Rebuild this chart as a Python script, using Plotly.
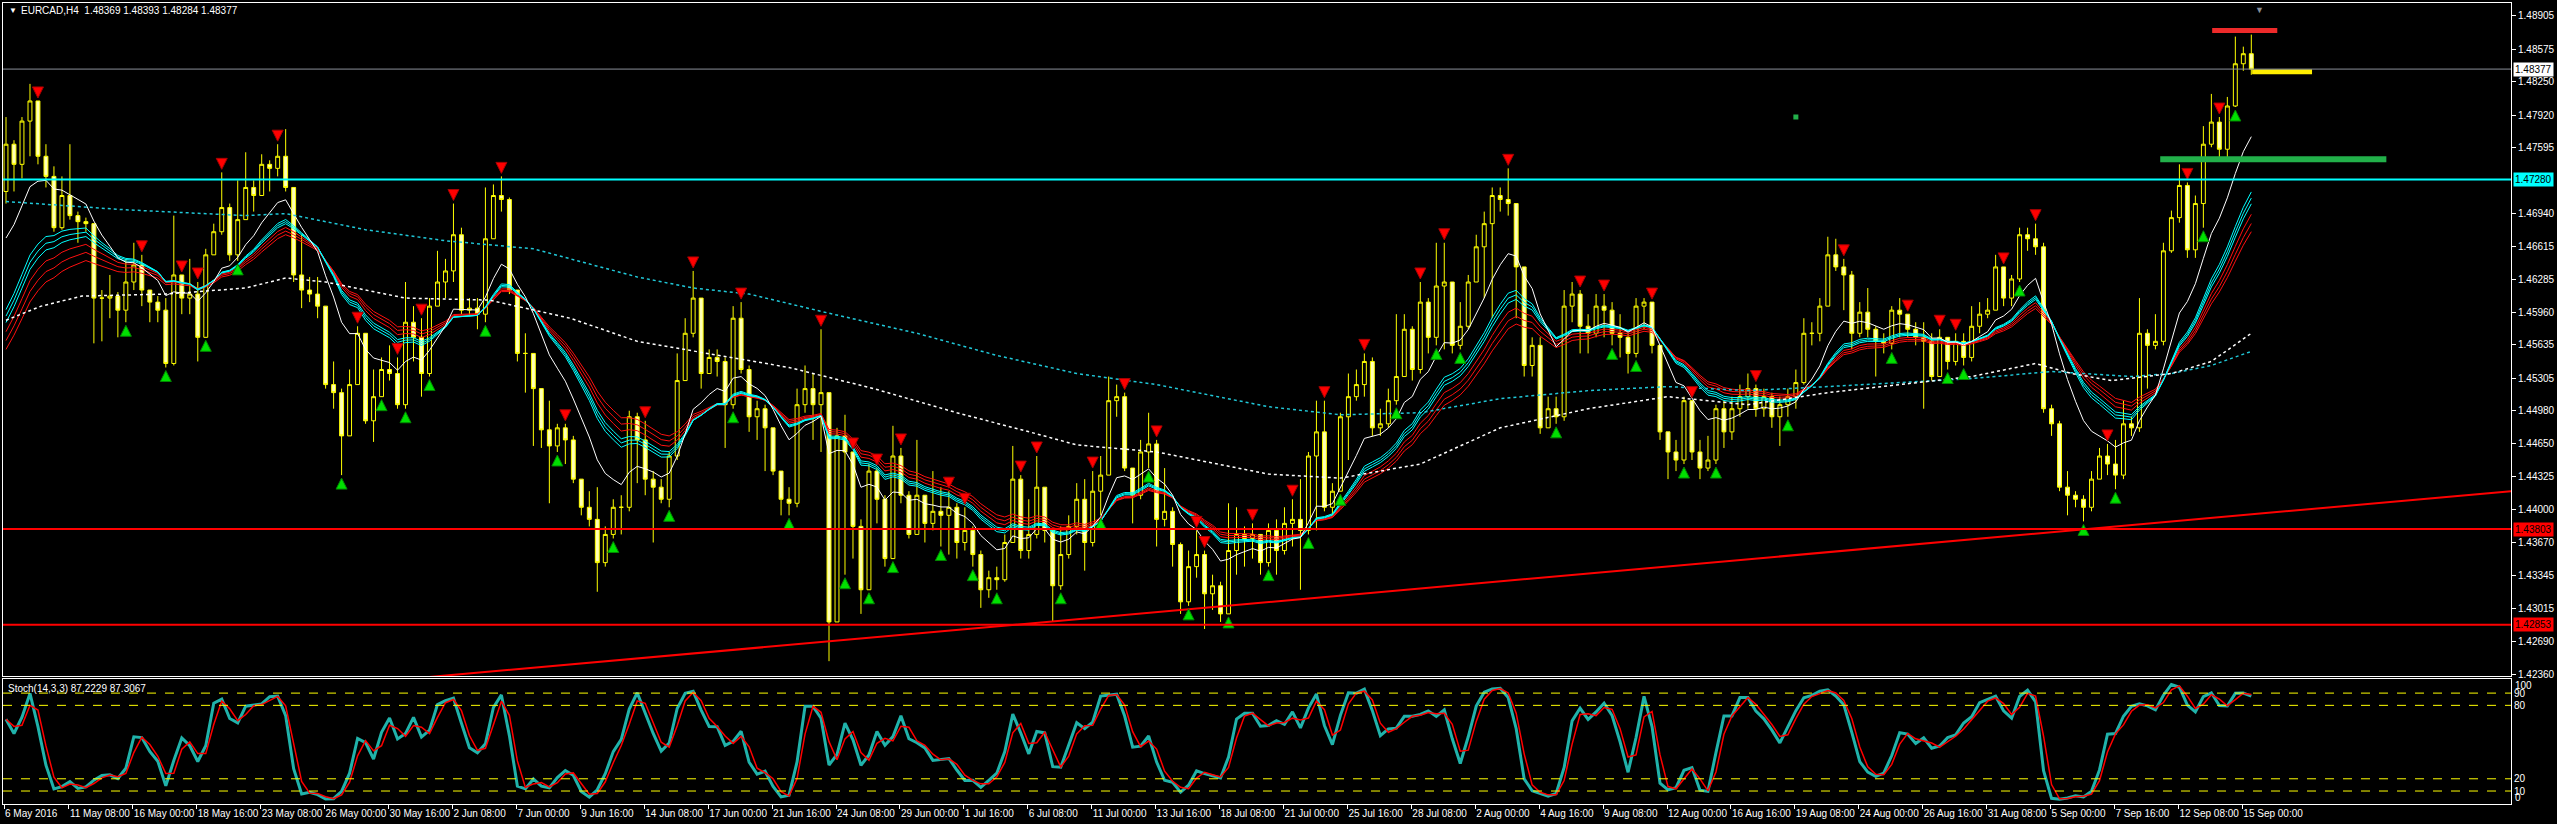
import plotly.graph_objects as go

# ---------------- DATA (EURCAD H4, each candle = 2 H4 bars) ----------------
open_first = 1.4716
close = [
1.4763,1.4743,1.4786,1.4806,1.4751,1.4731,1.4680,1.4712,1.4692,1.4686,
1.4684,1.4610,1.4610,1.4612,1.4598,1.4626,1.4643,1.4618,1.4606,1.4598,
1.4545,1.4633,1.4610,1.4614,1.4571,1.4653,1.4676,1.4700,1.4653,1.4688,
1.4720,1.4712,1.4743,1.4739,1.4751,1.4720,1.4633,1.4618,1.4614,1.4602,
1.4524,1.4516,1.4473,1.4524,1.4575,1.4488,1.4512,1.4539,1.4535,1.4504,
1.4586,1.4571,1.4535,1.4602,1.4626,1.4637,1.4673,1.4598,1.4600,1.4594,
1.4669,1.4712,1.4708,1.4618,1.4555,1.4555,1.4520,1.4479,1.4463,1.4481,
1.4469,1.4430,1.4402,1.4390,1.4347,1.4375,1.4402,1.4402,1.4492,1.4469,
1.4430,1.4422,1.4410,1.4453,1.4528,1.4575,1.4610,1.4535,1.4551,1.4547,
1.4504,1.4590,1.4539,1.4492,1.4500,1.4481,1.4438,1.4410,1.4406,1.4504,
1.4520,1.4504,1.4516,1.4288,1.4473,1.4457,1.4383,1.4320,1.4438,1.4410,
1.4351,1.4453,1.4414,1.4375,1.4414,1.4386,1.4398,1.4394,1.4402,1.4367,
1.4379,1.4355,1.4320,1.4332,1.4330,1.4367,1.4430,1.4359,1.4375,1.4422,
1.4379,1.4324,1.4355,1.4383,1.4410,1.4367,1.4418,1.4434,1.4508,1.4512,
1.4441,1.4414,1.4457,1.4465,1.4390,1.4398,1.4365,1.4308,1.4343,1.4355,
1.4316,1.4324,1.4296,1.4359,1.4375,1.4371,1.4375,1.4347,1.4379,1.4359,
1.4386,1.4390,1.4379,1.4453,1.4477,1.4402,1.4418,1.4492,1.4512,1.4524,
1.4547,1.4481,1.4485,1.4508,1.4532,1.4579,1.4539,1.4606,1.4571,1.4622,
1.4626,1.4563,1.4582,1.4626,1.4661,1.4684,1.4712,1.4708,1.4704,1.4641,
1.4543,1.4563,1.4481,1.4500,1.4492,1.4602,1.4614,1.4582,1.4575,1.4602,
1.4598,1.4575,1.4571,1.4555,1.4602,1.4606,1.4563,1.4477,1.4457,1.4449,
1.4508,1.4457,1.4441,1.4449,1.4500,1.4477,1.4500,1.4512,1.4520,1.4500,
1.4512,1.4492,1.4504,1.4512,1.4526,1.4575,1.4575,1.4602,1.4653,1.4641,
1.4633,1.4575,1.4596,1.4579,1.4567,1.4565,1.4598,1.4594,1.4579,1.4571,
1.4567,1.4532,1.4571,1.4547,1.4567,1.4551,1.4582,1.4594,1.4598,1.4641,
1.4610,1.4629,1.4673,1.4669,1.4661,1.4500,1.4485,1.4422,1.4414,1.4410,
1.4402,1.4430,1.4453,1.4445,1.4434,1.4485,1.4481,1.4575,1.4563,1.4567,
1.4657,1.4690,1.4722,1.4658,1.4704,1.4763,1.4785,1.4758,1.4801,1.4843,
1.4853,1.48377]
high = [
1.4790,1.4767,1.4790,1.4823,1.4780,1.4763,1.4741,1.4731,1.4763,1.4696,
1.4690,1.4680,1.4618,1.4633,1.4616,1.4649,1.4665,1.4653,1.4618,1.4612,
1.4610,1.4692,1.4626,1.4649,1.4626,1.4659,1.4684,1.4735,1.4704,1.4727,
1.4755,1.4727,1.4753,1.4747,1.4763,1.4778,1.4720,1.4673,1.4631,1.4631,
1.4602,1.4547,1.4520,1.4539,1.4582,1.4575,1.4539,1.4551,1.4563,1.4551,
1.4626,1.4602,1.4590,1.4610,1.4657,1.4649,1.4704,1.4680,1.4610,1.4610,
1.4720,1.4723,1.4731,1.4710,1.4618,1.4575,1.4555,1.4520,1.4508,1.4485,
1.4485,1.4473,1.4430,1.4418,1.4422,1.4383,1.4410,1.4414,1.4498,1.4496,
1.4488,1.4438,1.4430,1.4457,1.4555,1.4590,1.4637,1.4610,1.4559,1.4559,
1.4551,1.4602,1.4606,1.4543,1.4508,1.4504,1.4481,1.4438,1.4422,1.4520,
1.4543,1.4535,1.4579,1.4516,1.4481,1.4494,1.4457,1.4390,1.4445,1.4441,
1.4414,1.4483,1.4461,1.4418,1.4469,1.4414,1.4438,1.4422,1.4418,1.4406,
1.4402,1.4383,1.4359,1.4339,1.4343,1.4375,1.4463,1.4434,1.4410,1.4453,
1.4422,1.4379,1.4383,1.4394,1.4426,1.4430,1.4438,1.4453,1.4532,1.4524,
1.4516,1.4441,1.4469,1.4496,1.4469,1.4441,1.4402,1.4367,1.4359,1.4379,
1.4359,1.4335,1.4328,1.4406,1.4402,1.4383,1.4386,1.4375,1.4386,1.4390,
1.4402,1.4410,1.4430,1.4457,1.4508,1.4508,1.4426,1.4496,1.4535,1.4539,
1.4555,1.4551,1.4500,1.4520,1.4594,1.4594,1.4582,1.4626,1.4610,1.4665,
1.4665,1.4590,1.4606,1.4633,1.4673,1.4696,1.4720,1.4720,1.4739,1.4704,
1.4641,1.4571,1.4571,1.4512,1.4512,1.4618,1.4626,1.4618,1.4594,1.4614,
1.4614,1.4606,1.4594,1.4575,1.4610,1.4610,1.4606,1.4563,1.4477,1.4469,
1.4512,1.4473,1.4469,1.4473,1.4504,1.4508,1.4512,1.4524,1.4535,1.4524,
1.4520,1.4516,1.4512,1.4520,1.4539,1.4590,1.4586,1.4610,1.4671,1.4669,
1.4649,1.4637,1.4606,1.4620,1.4582,1.4575,1.4602,1.4610,1.4594,1.4586,
1.4586,1.4575,1.4579,1.4571,1.4575,1.4575,1.4602,1.4606,1.4610,1.4653,
1.4637,1.4633,1.4680,1.4680,1.4684,1.4665,1.4504,1.4488,1.4438,1.4418,
1.4414,1.4438,1.4461,1.4465,1.4469,1.4508,1.4492,1.4610,1.4579,1.4594,
1.4665,1.4697,1.4743,1.4725,1.4712,1.4781,1.4813,1.4790,1.4810,1.4870,
1.4860,1.4872]
low = [
1.4704,1.4716,1.4729,1.4751,1.4743,1.4720,1.4676,1.4678,1.4688,1.4665,
1.4676,1.4565,1.4567,1.4590,1.4571,1.4586,1.4618,1.4602,1.4586,1.4586,
1.4541,1.4543,1.4594,1.4594,1.4547,1.4571,1.4653,1.4673,1.4647,1.4647,
1.4688,1.4696,1.4712,1.4716,1.4731,1.4716,1.4626,1.4600,1.4606,1.4590,
1.4520,1.4500,1.4434,1.4473,1.4524,1.4485,1.4467,1.4512,1.4528,1.4500,
1.4500,1.4547,1.4512,1.4532,1.4602,1.4610,1.4626,1.4594,1.4592,1.4579,
1.4586,1.4669,1.4696,1.4614,1.4547,1.4516,1.4463,1.4461,1.4406,1.4457,
1.4445,1.4426,1.4394,1.4383,1.4318,1.4343,1.4371,1.4375,1.4398,1.4426,
1.4414,1.4367,1.4406,1.4402,1.4449,1.4532,1.4571,1.4520,1.4535,1.4532,
1.4461,1.4500,1.4535,1.4477,1.4469,1.4438,1.4434,1.4394,1.4394,1.4402,
1.4496,1.4469,1.4457,1.4249,1.4288,1.4335,1.4351,1.4296,1.4320,1.4386,
1.4343,1.4351,1.4406,1.4371,1.4375,1.4367,1.4379,1.4363,1.4355,1.4351,
1.4359,1.4343,1.4302,1.4312,1.4320,1.4328,1.4371,1.4351,1.4351,1.4371,
1.4367,1.4288,1.4320,1.4351,1.4375,1.4339,1.4363,1.4394,1.4434,1.4492,
1.4438,1.4386,1.4410,1.4441,1.4363,1.4383,1.4343,1.4296,1.4304,1.4332,
1.4281,1.4300,1.4288,1.4296,1.4335,1.4343,1.4351,1.4335,1.4343,1.4335,
1.4355,1.4363,1.4320,1.4375,1.4379,1.4398,1.4394,1.4418,1.4449,1.4508,
1.4512,1.4473,1.4473,1.4481,1.4504,1.4532,1.4528,1.4535,1.4555,1.4563,
1.4559,1.4555,1.4559,1.4579,1.4626,1.4610,1.4590,1.4696,1.4692,1.4590,
1.4532,1.4532,1.4475,1.4481,1.4485,1.4488,1.4586,1.4555,1.4555,1.4571,
1.4571,1.4563,1.4551,1.4535,1.4551,1.4579,1.4555,1.4469,1.4430,1.4438,
1.4445,1.4449,1.4430,1.4438,1.4445,1.4461,1.4469,1.4492,1.4500,1.4492,
1.4492,1.4481,1.4463,1.4492,1.4500,1.4524,1.4563,1.4567,1.4602,1.4637,
1.4598,1.4559,1.4571,1.4571,1.4532,1.4555,1.4559,1.4571,1.4571,1.4563,
1.4500,1.4528,1.4532,1.4539,1.4543,1.4543,1.4547,1.4575,1.4590,1.4598,
1.4602,1.4602,1.4626,1.4657,1.4653,1.4496,1.4473,1.4418,1.4394,1.4402,
1.4388,1.4398,1.4430,1.4434,1.4420,1.4430,1.4473,1.4477,1.4520,1.4559,
1.4563,1.4655,1.4685,1.4650,1.4650,1.4680,1.4760,1.4750,1.4746,1.4800,
1.4836,1.4832]

# signal arrows (candle index)
sell_arrows = [4, 17, 22, 24, 27, 34, 44, 49, 52, 56, 62, 70, 80, 86, 92, 102, 106, 109,
               112, 118, 120, 127, 129, 136, 140, 144, 149, 150, 156, 161, 165, 170, 177,
               180, 188, 197, 200, 206, 211, 219, 230, 238, 242, 244, 250, 254, 263, 273, 277]
buy_arrows = [15, 20, 25, 29, 42, 47, 50, 53, 60, 69, 76, 83, 91, 98, 105, 108, 111, 117,
              121, 124, 132, 137, 143, 148, 153, 158, 163, 167, 174, 179, 182, 194, 201,
              204, 210, 214, 223, 236, 243, 245, 252, 260, 264, 275, 279]

# long moving averages (candle index, price)
ma_long_idx = [0, 14.5, 30, 35, 45, 55, 66, 79, 86, 93, 103.5, 114, 124, 134, 144, 158,
               167, 177, 187, 198, 208, 218, 228, 237, 246, 256, 266, 271, 276, 281]
ma_long_val = [1.4706, 1.4698, 1.4692, 1.4694, 1.4678, 1.4667, 1.4659, 1.4631, 1.4620, 1.4614,
               1.4594, 1.4575, 1.4553, 1.4535, 1.4524, 1.4502, 1.4494, 1.4496, 1.4510, 1.4518,
               1.4522, 1.4518, 1.4522, 1.4526, 1.4530, 1.4537, 1.4532, 1.4535, 1.4543, 1.4557]
ma_mid_idx = [0, 4.4, 9.5, 20, 30, 35, 40, 50, 60.5, 70.6, 79, 88, 98, 108.6, 119, 129, 134,
              144, 158, 167, 177, 187, 198, 208, 218, 228, 237, 246, 254, 258.5, 263.5, 271, 276, 281]
ma_mid_val = [1.4588, 1.4602, 1.4612, 1.4614, 1.4620, 1.4630, 1.4626, 1.4610, 1.4608, 1.4590,
              1.4567, 1.4555, 1.4541, 1.4520, 1.4496, 1.4475, 1.4464, 1.4457, 1.4435, 1.4431,
              1.4445, 1.4481, 1.4500, 1.4512, 1.4504, 1.4516, 1.4524, 1.4532, 1.4545, 1.4535,
              1.4528, 1.4535, 1.4547, 1.4575]

# EMA settings (candle periods) and starting values read at the left edge
fast_ma = (10, 1.4649)
ribbon_cyan = [(17, 1.4578), (18, 1.4572), (19, 1.4566)]
ribbon_red = [(21, 1.4558), (23, 1.4550), (25, 1.4542)]

# horizontal levels
levels_red = [1.43803, 1.42853]
level_cyan = 1.47280
last_price = 1.48377
trend_idx = [52.6, 313.5]
trend_val = [1.4233, 1.4418]
seg_red = ([276.1, 284.25], 1.4876)
seg_yellow = ([281.1, 288.6], 1.4835)
seg_green = ([269.6, 297.9], 1.4748)
dot_green = (224, 1.4790)

price_ticks = [1.48905, 1.48575, 1.48250, 1.47920, 1.47595, 1.46940, 1.46615, 1.46285,
               1.45960, 1.45635, 1.45305, 1.44980, 1.44650, 1.44325, 1.44000, 1.43670,
               1.43345, 1.43015, 1.42690, 1.42360]
date_labels = ["6 May 2016", "11 May 08:00", "16 May 00:00", "18 May 16:00", "23 May 08:00",
               "26 May 00:00", "30 May 16:00", "2 Jun 08:00", "7 Jun 00:00", "9 Jun 16:00",
               "14 Jun 08:00", "17 Jun 00:00", "21 Jun 16:00", "24 Jun 08:00", "29 Jun 00:00",
               "1 Jul 16:00", "6 Jul 08:00", "11 Jul 00:00", "13 Jul 16:00", "18 Jul 08:00",
               "21 Jul 00:00", "25 Jul 16:00", "28 Jul 08:00", "2 Aug 00:00", "4 Aug 16:00",
               "9 Aug 08:00", "12 Aug 00:00", "16 Aug 16:00", "19 Aug 08:00", "24 Aug 00:00",
               "26 Aug 16:00", "31 Aug 08:00", "5 Sep 00:00", "7 Sep 16:00", "12 Sep 08:00",
               "15 Sep 00:00"]
date_pos = [-0.25] + [7.875 + 8 * k for k in range(len(date_labels) - 1)]

# ---------------- derived series ----------------
n = len(close)
xs = list(range(n))
opens = [open_first] + close[:-1]
highs = [max(h, o, c) for h, o, c in zip(high, opens, close)]
lows = [min(l, o, c) for l, o, c in zip(low, opens, close)]


def ema(vals, period, seed):
    a = 2.0 / (period + 1)
    out, prev = [], seed
    for v in vals:
        prev = prev + a * (v - prev)
        out.append(prev)
    return out


def stoch(hh, ll, cc, kp=7, slow=2, dp=2):
    num, den = [], []
    for i in range(len(cc)):
        s = max(0, i - kp + 1)
        h = max(hh[s:i + 1]); l = min(ll[s:i + 1])
        num.append(cc[i] - l); den.append(h - l)
    k = []
    for i in range(len(cc)):
        s = max(0, i - slow + 1)
        d = sum(den[s:i + 1])
        k.append(100.0 * sum(num[s:i + 1]) / d if d else 50.0)
    dline = []
    for i in range(len(k)):
        s = max(0, i - dp + 1)
        dline.append(sum(k[s:i + 1]) / (i + 1 - s))
    return k, dline


st_k, st_d = stoch(highs, lows, close)

FONT = "Liberation Sans, Arial, sans-serif"
fig = go.Figure()

# ribbons
for p, s in ribbon_red:
    fig.add_trace(go.Scatter(x=xs, y=ema(close, p, s), mode="lines",
                             line=dict(color="#FF1010", width=1), hoverinfo="skip"))
for p, s in ribbon_cyan:
    fig.add_trace(go.Scatter(x=xs, y=ema(close, p, s), mode="lines",
                             line=dict(color="#00FFFF", width=1), hoverinfo="skip"))
fig.add_trace(go.Scatter(x=xs, y=ema(close, *fast_ma), mode="lines",
                         line=dict(color="#FFFFFF", width=1), hoverinfo="skip"))
fig.add_trace(go.Scatter(x=ma_long_idx, y=ma_long_val, mode="lines",
                         line=dict(color="#20C8D8", width=1.5, dash="dot"), hoverinfo="skip"))
fig.add_trace(go.Scatter(x=ma_mid_idx, y=ma_mid_val, mode="lines",
                         line=dict(color="#FFFFFF", width=1.5, dash="dot"), hoverinfo="skip"))

# trend line
fig.add_trace(go.Scatter(x=trend_idx, y=trend_val, mode="lines",
                         line=dict(color="#FF0000", width=2), hoverinfo="skip"))

# candles
fig.add_trace(go.Candlestick(
    x=xs, open=opens, high=highs, low=lows, close=close,
    increasing=dict(line=dict(color="#FFFF00", width=1), fillcolor="#000000"),
    decreasing=dict(line=dict(color="#FFFF00", width=1), fillcolor="#FFFFB8"),
    whiskerwidth=0, hoverinfo="skip"))

# arrows
fig.add_trace(go.Scatter(x=sell_arrows, y=[highs[i] + 0.0003 for i in sell_arrows], mode="markers",
                         marker=dict(symbol="arrow-down", size=11, color="#FF0000",
                                     line=dict(color="#AA0000", width=1)), hoverinfo="skip"))
fig.add_trace(go.Scatter(x=buy_arrows, y=[lows[i] - 0.0003 for i in buy_arrows], mode="markers",
                         marker=dict(symbol="arrow-up", size=11, color="#00E000",
                                     line=dict(color="#008800", width=1)), hoverinfo="skip"))

# short segments
for (sx, sy), col, w in [(seg_green, "#22B04A", 6), (seg_red, "#EE2A2A", 5), (seg_yellow, "#FFEE00", 5)]:
    fig.add_trace(go.Scatter(x=sx, y=[sy, sy], mode="lines", line=dict(color=col, width=w),
                             hoverinfo="skip"))
fig.add_trace(go.Scatter(x=[dot_green[0]], y=[dot_green[1]], mode="markers",
                         marker=dict(symbol="square", size=5, color="#22B04A"), hoverinfo="skip"))

# stochastic
fig.add_trace(go.Scatter(x=xs, y=st_k, mode="lines", xaxis="x2", yaxis="y2",
                         line=dict(color="#20B2AA", width=3), hoverinfo="skip"))
fig.add_trace(go.Scatter(x=xs, y=st_d, mode="lines", xaxis="x2", yaxis="y2",
                         line=dict(color="#FF0000", width=1.5), hoverinfo="skip"))

shapes = []
for lv in levels_red:
    shapes.append(dict(type="line", xref="x domain", yref="y", x0=0, x1=1, y0=lv, y1=lv,
                       line=dict(color="#FF0000", width=2)))
shapes.append(dict(type="line", xref="x domain", yref="y", x0=0, x1=1, y0=level_cyan, y1=level_cyan,
                   line=dict(color="#00FFFF", width=2)))
shapes.append(dict(type="line", xref="x domain", yref="y", x0=0, x1=1, y0=last_price, y1=last_price,
                   line=dict(color="#8A8F99", width=1)))
for lv in [10, 20, 80, 90]:
    shapes.append(dict(type="line", xref="x2 domain", yref="y2", x0=0, x1=1, y0=lv, y1=lv,
                       line=dict(color="#FFFF00", width=1, dash="dash")))

ann = []
for val, bg in [(last_price, "#FFFFFF"), (level_cyan, "#00FFFF"),
                (levels_red[0], "#FF0000"), (levels_red[1], "#FF0000")]:
    ann.append(dict(xref="paper", yref="y", x=1, y=val, xanchor="left", yanchor="middle",
                    xshift=2, text=f"{val:.5f}", showarrow=False, bgcolor=bg, borderpad=1,
                    font=dict(family=FONT, size=10, color="#000000")))
ann.append(dict(xref="paper", yref="paper", x=(7 - 3) / 2511, y=(804 - 9.5) / 802, xanchor="left",
                yanchor="middle", text="▼", showarrow=False,
                font=dict(family=FONT, size=8, color="#FFFFFF")))
ann.append(dict(xref="paper", yref="paper", x=(19 - 3) / 2511, y=(804 - 9.5) / 802, xanchor="left",
                yanchor="middle", text="EURCAD,H4  1.48369 1.48393 1.48284 1.48377", showarrow=False,
                font=dict(family=FONT, size=10, color="#FFFFFF")))
ann.append(dict(xref="paper", yref="paper", x=(6 - 3) / 2511, y=(804 - 688) / 802, xanchor="left",
                yanchor="middle", text="Stoch(14,3,3) 87.2229 87.3067", showarrow=False,
                font=dict(family=FONT, size=10, color="#FFFFFF")))
ann.append(dict(xref="paper", yref="y2", x=1, y=100, xanchor="left", yanchor="middle", xshift=2,
                yshift=-5, text="100", showarrow=False, font=dict(family=FONT, size=10, color="#FFFFFF")))
ann.append(dict(xref="paper", yref="y2", x=1, y=0, xanchor="left", yanchor="middle", xshift=2,
                yshift=6, text="0", showarrow=False, font=dict(family=FONT, size=10, color="#FFFFFF")))
ann.append(dict(xref="x", yref="paper", x=282, y=1.0, xanchor="center", yanchor="top",
                text="▼", showarrow=False, font=dict(family=FONT, size=9, color="#8A8F99")))

xr = [-0.375, 313.5]
axis_common = dict(showgrid=False, zeroline=False, showline=True, mirror=True,
                   linecolor="#FFFFFF", linewidth=1)
fig.update_layout(
    width=2557, height=824,
    margin=dict(l=3, r=43, t=2, b=20),
    paper_bgcolor="#000000", plot_bgcolor="#000000",
    showlegend=False,
    font=dict(family=FONT, size=10, color="#FFFFFF"),
    xaxis=dict(domain=[0, 1], anchor="y", range=xr, showticklabels=False, ticks="",
               rangeslider=dict(visible=False), **axis_common),
    yaxis=dict(domain=[0.1596, 1.0], anchor="x", side="right", range=[1.42341, 1.49034],
               tickvals=price_ticks, tickformat=".5f", ticks="outside", ticklen=4,
               tickcolor="#FFFFFF", tickfont=dict(family=FONT, size=10, color="#FFFFFF"),
               **axis_common),
    xaxis2=dict(domain=[0, 1], anchor="y2", range=xr, matches="x",
                tickvals=date_pos, ticktext=date_labels, ticks="outside", ticklen=4,
                tickangle=0, tickcolor="#FFFFFF", ticklabelposition="outside right",
                tickfont=dict(family=FONT, size=10, color="#FFFFFF"), **axis_common),
    yaxis2=dict(domain=[0, 0.15586], anchor="x2", side="right", range=[-0.6, 101.4],
                tickvals=[10, 20, 80, 90], ticks="", tickfont=dict(family=FONT, size=10, color="#FFFFFF"),
                **axis_common),
    shapes=shapes, annotations=ann,
)

fig.write_html("out.html", config={"displayModeBar": False, "staticPlot": True})
